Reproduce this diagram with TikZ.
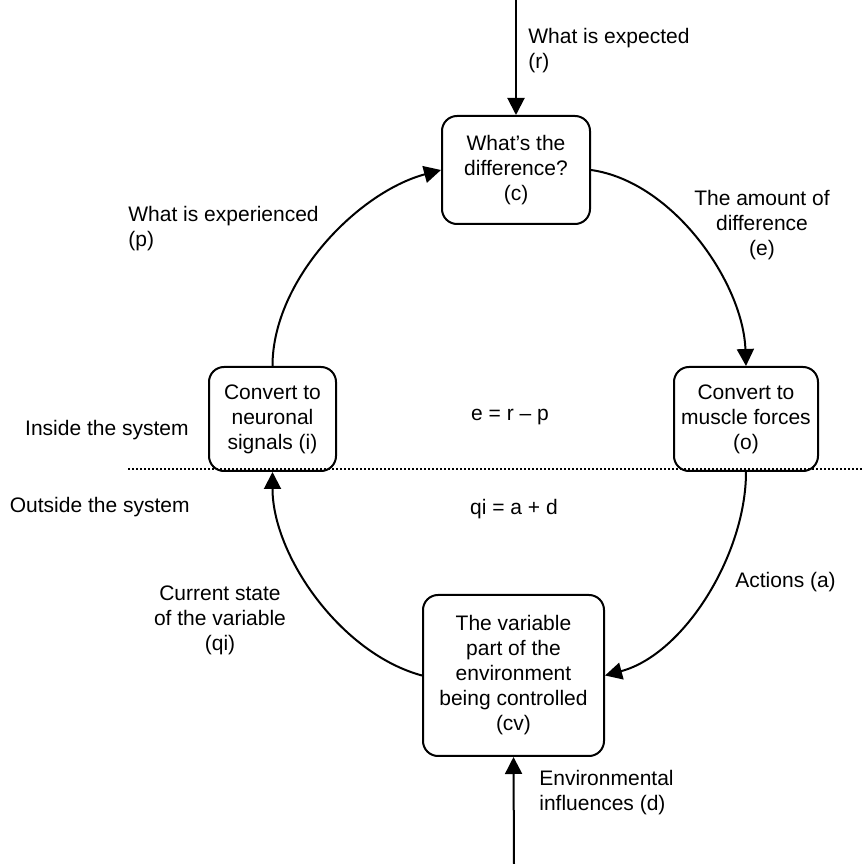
\documentclass[tikz,border=0pt]{standalone}
\usepackage{fontspec}
\setmainfont{Liberation Sans}
\usetikzlibrary{arrows.meta,positioning}
\tikzset{
  proc/.style={rectangle, rounded corners=7.5pt, draw, line width=1pt, fill=white, align=center, inner sep=0pt},
  flow/.style={line width=1pt, -{Triangle[length=8.5pt,width=8.5pt]}},
  lbl/.style={inner sep=0pt, align=center},
  sysline/.style={line width=1pt, dash pattern=on 1pt off 1pt}
}

\begin{document}
\begin{tikzpicture}[x=0.5pt, y=0.5pt, font=\fontsize{10.5}{12.5}\selectfont]
  \useasboundingbox (0,0) rectangle (862,864);

  % The four stages of the loop
  \node[proc, minimum width=74pt, minimum height=54pt] (c) at (516,694) {What’s the\\difference?\\(c)};
  \node[proc, minimum width=63.5pt, minimum height=52pt] (i) at (272.5,445) {Convert to\\neuronal\\signals (i)};
  \node[proc, minimum width=72pt, minimum height=52pt] (o) at (746,445) {Convert to\\muscle forces\\(o)};
  \node[proc, minimum width=90.5pt, minimum height=80.5pt] (cv) at (513.5,188.5) {The variable\\part of the\\environment\\being controlled\\(cv)};

  % Inputs from outside the loop
  \coordinate (rin) at (516,864);
  \coordinate (din) at (514,0);
  \draw[flow] (rin) -- (c.north);
  \draw[flow] (din) -- (cv.south);

  % The loop itself
  \draw[flow] (i.north) to[out=90, in=195, looseness=0.85] (c.west);
  \draw[flow] (c.east) to[out=-8, in=92, looseness=0.85] (o.north);
  \draw[flow] (o.south) to[out=-90, in=15, looseness=0.85] (cv.east);
  \draw[flow] (cv.west) to[out=165, in=-90, looseness=0.85] (i.south);

  % Boundary of the system
  \coordinate (sysL) at (128,395);
  \coordinate (sysR) at (862,395);
  \draw[sysline] (sysL) -- (sysR);

  % Labels
  \node[lbl, anchor=west, align=left] (rlbl) at (528,813) {What is expected\\(r)};
  \node[lbl, anchor=west, align=left] (plbl) at (128,635) {What is experienced\\(p)};
  \node[lbl] (elbl) at (762,639) {The amount of\\difference\\(e)};
  \node[lbl, anchor=base east] (inside) at (189,428) {Inside the system};
  \node[lbl, anchor=base east] (outside) at (190,351) {Outside the system};
  \node[lbl, anchor=base] (eqe) at (510,443) {e = r – p};
  \node[lbl, anchor=base] (eqq) at (514,349) {qi = a + d};
  \node[lbl, anchor=base west] (albl) at (735,276) {Actions (a)};
  \node[lbl] (qlbl) at (220,244) {Current state\\of the variable\\(qi)};
  \node[lbl, anchor=west, align=left] (dlbl) at (539,71.5) {Environmental\\influences (d)};

\end{tikzpicture}
\end{document}
